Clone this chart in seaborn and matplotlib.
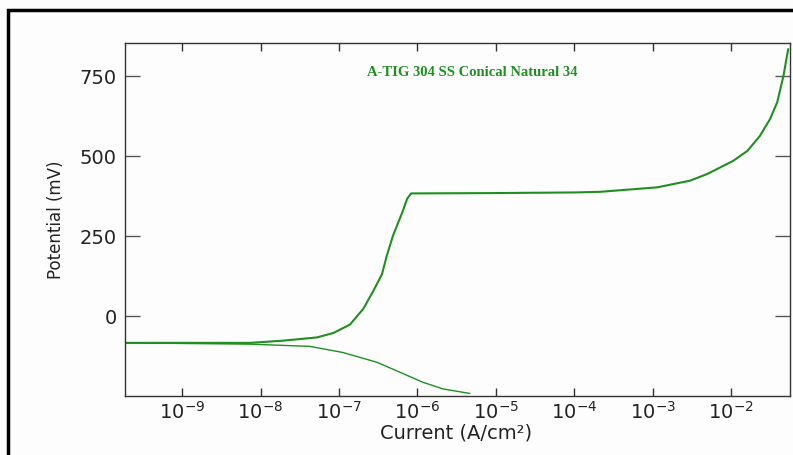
import numpy as np
import pandas as pd
import matplotlib.pyplot as plt
import matplotlib.ticker as mticker
from matplotlib.patches import Rectangle
import seaborn as sns

# Curva anódica (log10 de la corriente en A/cm², potencial en mV)
log_i_anodica = [-9.73, -8.13, -7.71, -7.28, -7.07, -6.86, -6.69, -6.56, -6.45, -6.39,
                 -6.31, -6.19, -6.13, -6.08, -5.07, -4.0, -3.67, -2.94, -2.52, -2.30,
                 -1.97, -1.79, -1.63, -1.50, -1.41, -1.33, -1.27]
e_anodica = [-84, -84, -77, -67, -53, -27, 22, 79, 131, 188,
             251, 325, 366, 383, 384, 386, 388, 402, 423, 444,
             485, 516, 563, 616, 668, 751, 834]

# Curva catódica
log_i_catodica = [-9.73, -8.13, -7.37, -6.95, -6.51, -6.22, -5.93, -5.67, -5.33]
e_catodica = [-84, -88, -95, -114, -145, -176, -207, -228, -242]

# Ticks del eje x (décadas)
decadas = [-9, -8, -7, -6, -5, -4, -3, -2]

df_a = pd.DataFrame({"i": 10 ** np.array(log_i_anodica), "E": e_anodica})
df_c = pd.DataFrame({"i": 10 ** np.array(log_i_catodica), "E": e_catodica})

sns.set_style("white")
plt.rcParams['font.family'] = ['DejaVu Sans']
plt.rcParams['mathtext.default'] = 'regular'

verde = "#1f8f1f"

fig = plt.figure(figsize=(7.93, 4.56), dpi=100)
fig.patch.set_facecolor("#fdfdfd")
ax = fig.add_axes([125 / 793, 1 - 397 / 456, (790 - 125) / 793, (397 - 44) / 456])
ax.set_facecolor("#fdfdfd")

sns.lineplot(data=df_a, x="i", y="E", sort=False, color=verde, lw=1.5, ax=ax)
sns.lineplot(data=df_c, x="i", y="E", sort=False, color=verde, lw=1.0, ax=ax)

ax.set_xscale("log")
ax.set_xlim(1.87e-10, 0.0566)
ax.set_ylim(-250, 853)
ax.set_xticks([10.0 ** d for d in decadas])
ax.set_xticklabels([f"$10^{{{d}}}$" for d in decadas])
ax.xaxis.set_minor_locator(mticker.NullLocator())
ax.set_yticks([0, 250, 500, 750])

ax.tick_params(axis="y", direction="in", length=11, width=1, color="#555555",
               left=True, right=True, labelsize=14, pad=6, labelcolor="#222222")
ax.tick_params(axis="x", direction="in", length=6, width=1, color="#333333",
               bottom=True, top=True, labelsize=14, pad=3, labelcolor="#222222")
for s in ax.spines.values():
    s.set_color("#333333")
    s.set_linewidth(1)

ax.set_xlabel("Current (A/cm²)", fontsize=14, color="#222222")
ax.xaxis.set_label_coords((456 - 125) / 665, (397 - 424) / 353)
ax.set_ylabel("Potential (mV)", fontsize=12, color="#222222")
ax.yaxis.set_label_coords((65 - 125) / 665, (397 - 220) / 353)

ax.text((472 - 125) / 665, (397 - 73) / 353, "A-TIG 304 SS Conical Natural 34",
        transform=ax.transAxes, ha="center", va="center", fontsize=10.5,
        fontweight="bold", family="Liberation Serif", color=verde)

# Marco exterior
fig.patches.append(Rectangle((8 / 793, -0.1), 1.2, 1 - 11 / 456 + 0.1,
                             transform=fig.transFigure, fill=False,
                             edgecolor="black", lw=2.5))

plt.savefig("out.png", dpi=100)
